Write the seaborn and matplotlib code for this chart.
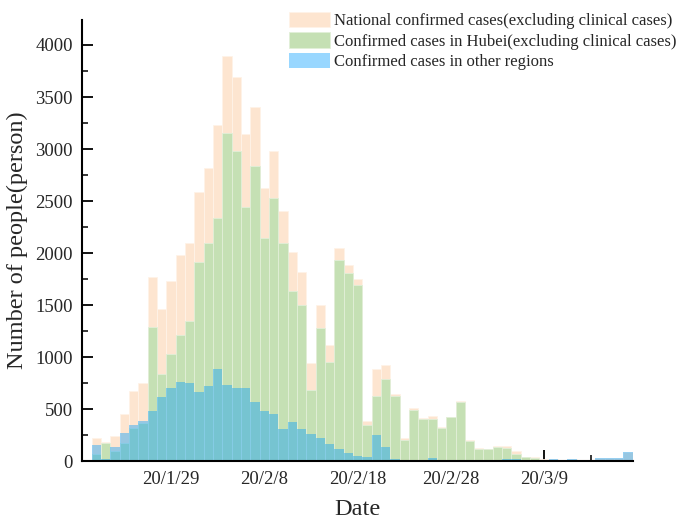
import numpy as np
import pandas as pd
import matplotlib
matplotlib.use("Agg")
import matplotlib.pyplot as plt
from matplotlib.ticker import FixedLocator
import seaborn as sns

# ---- data (daily new confirmed cases, from 2020-01-21 to 2020-03-18) ----
national = [221, 189, 246, 451, 676, 756, 1771, 1464, 1733, 1983,
            2098, 2592, 2822, 3233, 3890, 3691, 3147, 3407, 2627, 2983,
            2404, 2013, 1820, 949, 1499, 1118, 2048, 1888, 1750, 388,
            887, 925, 645, 221, 513, 413, 438, 332, 429, 580,
            207, 125, 121, 144, 144, 101, 44, 39, 19, 24,
            17, 22, 15, 16, 28, 28, 28, 89]
hubei = [70, 173, 102, 179, 323, 371, 1291, 840, 1032, 1215,
         1347, 1919, 2102, 2342, 3153, 2983, 2444, 2839, 2146, 2529,
         2096, 1637, 1506, 682, 1281, 955, 1933, 1805, 1693, 349,
         627, 790, 630, 204, 497, 403, 406, 322, 423, 568,
         199, 115, 115, 134, 128, 74, 41, 35, 17, 13,
         8, 5, 4, 4, 4, 1, 1, 0]
other = [157, 22, 137, 275, 349, 387, 484, 618, 705, 763,
         753, 670, 728, 887, 733, 708, 708, 573, 486, 454,
         307, 378, 314, 266, 224, 167, 118, 83, 55, 44,
         256, 137, 18, 3, 5, 3, 32, 4, 4, 4,
         5, 5, 3, 5, 20, 20, 3, 3, 3, 22,
         10, 22, 12, 16, 28, 28, 28, 89]
dates = pd.date_range("2020-01-21", periods=len(national), freq="D")
day_labels = [f"{d.year % 100}/{d.month}/{d.day}" for d in dates]
major_days = ["20/1/29", "20/2/8", "20/2/18", "20/2/28", "20/3/9"]
minor_days = ["20/1/24", "20/2/3", "20/2/13", "20/2/23", "20/3/4", "20/3/14"]

labels = ["National confirmed cases(excluding clinical cases)",
          "Confirmed cases in Hubei(excluding clinical cases)",
          "Confirmed cases in other regions"]

df = pd.DataFrame({"day": day_labels, "national": national,
                   "hubei": hubei, "other": other})

sns.set_style("ticks")
plt.rcParams["font.family"] = ["Liberation Serif", "DejaVu Serif"]

fig = plt.figure(figsize=(6.79, 5.22), dpi=100)
ax = fig.add_axes([0.1215, 0.1163, 0.8103, 0.8454])

sns.barplot(data=df, x="day", y="national", order=day_labels, color="#FDE5D0",
            saturation=1, width=1.0, edgecolor="#FFF3E8", linewidth=0.6,
            label=labels[0], ax=ax, errorbar=None)
sns.barplot(data=df, x="day", y="hubei", order=day_labels, color="#C5E0B4",
            saturation=1, width=1.0, edgecolor="#E2EFD8", linewidth=0.6,
            label=labels[1], ax=ax, errorbar=None)
sns.barplot(data=df, x="day", y="other", order=day_labels, color="#009BFF",
            saturation=1, width=1.0, alpha=0.4, linewidth=0,
            label=labels[2], ax=ax, errorbar=None)

ax.set_xlim(-1.5, len(national) - 0.5)
ax.set_ylim(0, 4240)
ax.xaxis.set_major_locator(FixedLocator([day_labels.index(d) for d in major_days]))
ax.set_xticklabels(major_days)
ax.xaxis.set_minor_locator(FixedLocator([day_labels.index(d) for d in minor_days]))
ax.yaxis.set_major_locator(FixedLocator(np.arange(0, 4001, 500)))
ax.yaxis.set_minor_locator(FixedLocator(np.arange(250, 4251, 500)))

ax.tick_params(axis="both", which="major", direction="in", length=8, width=1.3,
               labelsize=13.5, pad=7, color="black")
ax.tick_params(axis="both", which="minor", direction="in", length=4, width=1.1,
               color="black")
for s in ["top", "right"]:
    ax.spines[s].set_visible(False)
for s in ["left", "bottom"]:
    ax.spines[s].set_linewidth(1.5)
    ax.spines[s].set_color("black")

ax.set_xlabel("Date", fontsize=17.5, labelpad=8)
ax.set_ylabel("Number of people(person)", fontsize=17.5, labelpad=5)

ax.legend(loc="upper right", bbox_to_anchor=(677 / 679, 1 - 12 / 522),
          bbox_transform=fig.transFigure, frameon=False, fontsize=12,
          handlelength=2.45, handleheight=1.05, handletextpad=0.3,
          labelspacing=0.18, borderpad=0, borderaxespad=0)

fig.savefig("out.png", dpi=100)
